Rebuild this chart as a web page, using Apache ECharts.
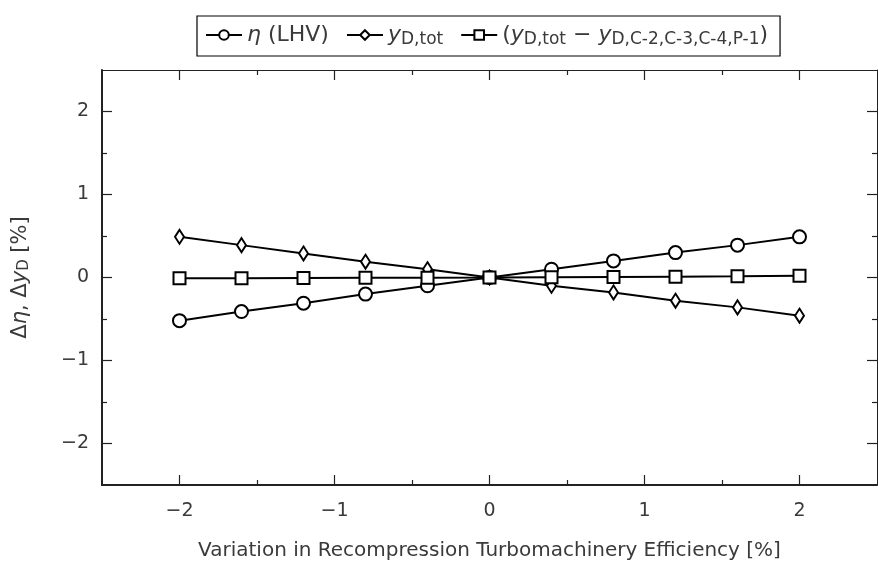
<!DOCTYPE html>
<html>
<head>
<meta charset="UTF-8">
<title></title>
<script src="https://cdn.jsdelivr.net/npm/echarts@6/dist/echarts.min.js"></script>
<style>
  html, body { margin: 0; padding: 0; background: #fff; }
  #chart { width: 878px; height: 563px; }
</style>
</head>
<body>
<div id="chart"></div>
<script>
  // data
  var xValues = [-2, -1.6, -1.2, -0.8, -0.4, 0, 0.4, 0.8, 1.2, 1.6, 2];
  var etaValues = [-0.52, -0.41, -0.31, -0.2, -0.1, 0, 0.1, 0.2, 0.3, 0.39, 0.49];
  var ydTotValues = [0.49, 0.39, 0.29, 0.19, 0.1, 0, -0.1, -0.18, -0.28, -0.36, -0.46];
  var ydDiffValues = [-0.01, -0.008, -0.006, -0.004, -0.002, 0, 0.004, 0.007, 0.01, 0.015, 0.022];
  var majorTicks = [-2, -1, 0, 1, 2];
  var minorTicks = [-1.5, -0.5, 0.5, 1.5];

  var ink = '#222';
  var txt = '#3a3a3a';
  var font = 'DejaVu Sans';

  function pairs(ys) {
    return xValues.map(function (x, i) { return [x, ys[i]]; });
  }
  function fmt(v) {
    return v < 0 ? '\u2212' + Math.abs(v) : String(v);
  }

  function axis(kind, pos, main, minor) {
    var a = {
      type: 'value', position: pos, min: -2.5, max: 2.5,
      splitLine: { show: false },
      axisLine: { show: !minor, onZero: false, lineStyle: { color: ink, width: main ? 2 : 1 } },
      axisTick: { inside: true, length: minor ? 5 : 10, customValues: minor ? minorTicks : majorTicks,
                  lineStyle: { color: ink, width: 1.2 } },
      axisLabel: { show: false }
    };
    if (main) {
      a.axisLabel = { show: true, customValues: majorTicks, formatter: fmt,
                      color: txt, fontSize: 19, fontFamily: font, margin: kind === 'x' ? 17 : 13 };
    }
    return a;
  }

  var xMain = axis('x', 'bottom', true, false);
  xMain.name = 'Variation in Recompression Turbomachinery Efficiency [%]';
  xMain.nameLocation = 'middle';
  xMain.nameGap = 56;
  xMain.nameTextStyle = { color: txt, fontSize: 20, fontFamily: font };

  var yMain = axis('y', 'left', true, false);
  yMain.name = '\u0394{i|\u03b7}, \u0394{i|y}{sub|D} [%]';
  yMain.nameLocation = 'middle';
  yMain.nameGap = 70;
  yMain.nameTextStyle = {
    color: txt, fontSize: 21, fontFamily: font,
    rich: {
      i: { fontStyle: 'italic', fontSize: 21, color: txt, fontFamily: font },
      sub: { fontSize: 15, color: txt, fontFamily: font, padding: [8, 0, 0, 0] }
    }
  };

  var names = ['eta', 'ydtot', 'yddiff'];
  var legendText = {
    eta: '{i|\u03b7} (LHV)',
    ydtot: '{i|y}{sub|D,tot}',
    yddiff: '({i|y}{sub|D,tot} \u2212 {i|y}{sub|D,C-2,C-3,C-4,P-1})'
  };

  function series(name, ys, symbol, size) {
    return {
      name: name, type: 'line', xAxisIndex: 0, yAxisIndex: 0,
      data: pairs(ys), symbol: symbol, symbolSize: size, showAllSymbol: true,
      lineStyle: { color: '#000', width: 2 },
      itemStyle: { color: '#fff', borderColor: '#000', borderWidth: 2 },
      emphasis: { disabled: true }, animation: false
    };
  }

  var option = {
    animation: false,
    grid: { left: 102, right: 1, top: 70, bottom: 78, containLabel: false, outerBoundsMode: 'none' },
    legend: {
      data: names, top: 16, left: 197,
      borderColor: '#000', borderWidth: 1.2, padding: [8, 12, 8, 8],
      itemWidth: 36, itemHeight: 12, itemGap: 17,
      formatter: function (n) { return legendText[n]; },
      textStyle: {
        color: txt, fontSize: 22, fontFamily: font,
        rich: {
          i: { fontStyle: 'italic', fontSize: 22, color: txt, fontFamily: font },
          sub: { fontSize: 17, color: txt, fontFamily: font, padding: [9, 0, 0, 0] }
        }
      }
    },
    xAxis: [xMain, axis('x', 'bottom', false, true), axis('x', 'top', false, false), axis('x', 'top', false, true)],
    yAxis: [yMain, axis('y', 'left', false, true), axis('y', 'right', false, false), axis('y', 'right', false, true)],
    series: [
      series('eta', etaValues, 'circle', 13),
      series('ydtot', ydTotValues, 'diamond', [9, 14]),
      series('yddiff', ydDiffValues, 'rect', 12)
    ]
  };

  var chart = echarts.init(document.getElementById('chart'));
  chart.setOption(option);
</script>
</body>
</html>
